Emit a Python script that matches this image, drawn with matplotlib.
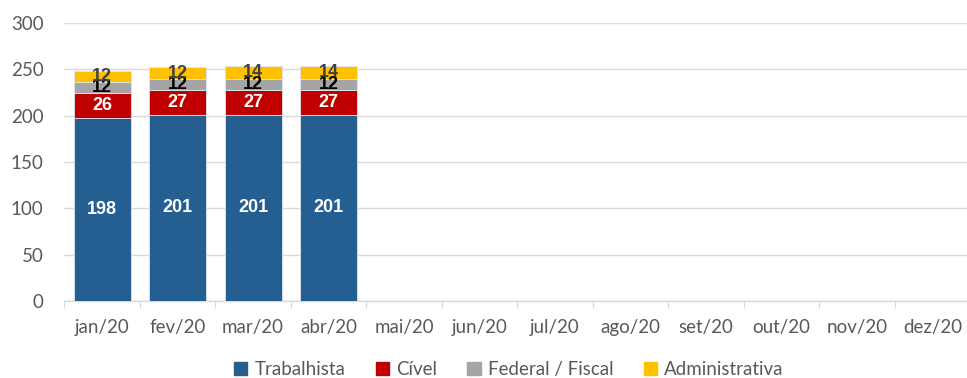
import numpy as np
import matplotlib.pyplot as plt
from matplotlib.patches import Patch

# processos por tipo, mensal
meses = ['jan/20', 'fev/20', 'mar/20', 'abr/20', 'mai/20', 'jun/20',
         'jul/20', 'ago/20', 'set/20', 'out/20', 'nov/20', 'dez/20']
trabalhista = [198, 201, 201, 201]
civel = [26, 27, 27, 27]
federal = [12, 12, 12, 12]
administrativa = [12, 12, 14, 14]

series = [
    ('Trabalhista', trabalhista, '#255E91', 'white'),
    ('Cível', civel, '#C00000', 'white'),
    ('Federal / Fiscal', federal, '#A5A5A5', 'black'),
    ('Administrativa', administrativa, '#FFC000', '#404040'),
]

plt.rcParams['font.family'] = ['Lato', 'DejaVu Sans']

fig = plt.figure(figsize=(9.67, 3.78), dpi=100)
ax = fig.add_axes([64.3 / 967, 77 / 378, 906 / 967, 278 / 378])

x = np.arange(len(trabalhista))
base = np.zeros(len(trabalhista))
for nome, vals, cor, cor_txt in series:
    vals = np.array(vals, dtype=float)
    ax.bar(x, vals, 0.755, bottom=base, color=cor, edgecolor='#dfe6ee',
           linewidth=0.6, zorder=3)
    for xi, b, v in zip(x, base, vals):
        ax.text(xi, b + v / 2, f'{int(v)}', ha='center', va='center',
                color=cor_txt, fontsize=13, fontweight='bold',
                family=['Liberation Sans', 'DejaVu Sans'], zorder=4)
    base += vals

ax.set_xlim(-0.5, len(meses) - 0.5)
ax.set_ylim(0, 300)
ax.set_yticks(range(0, 301, 50))
ax.set_xticks(range(len(meses)))
ax.set_xticklabels(meses)
ax.set_xticks(np.arange(-0.5, len(meses), 1), minor=True)
ax.tick_params(axis='x', which='major', length=0, pad=13, labelsize=13.5,
               colors='#595959')
ax.tick_params(axis='x', which='minor', length=5, width=0.8, color='#D9D9D9')
ax.tick_params(axis='y', length=0, pad=15, labelsize=13.5, colors='#595959')

ax.grid(axis='y', color='#D9D9D9', linewidth=1, zorder=0)
for s in ['top', 'right', 'left']:
    ax.spines[s].set_visible(False)
ax.spines['bottom'].set_color('#D9D9D9')
ax.spines['bottom'].set_linewidth(1)

handles = [Patch(color=c, label=n) for n, _, c, _ in series]
leg = fig.legend(handles=handles, loc='center', bbox_to_anchor=(509 / 967, 8.5 / 378),
                 ncol=4, frameon=False, fontsize=13.5, handlelength=0.7,
                 handleheight=0.7, handletextpad=0.4, columnspacing=1.6)
for t in leg.get_texts():
    t.set_color('#595959')

fig.savefig('out.png', dpi=100)
